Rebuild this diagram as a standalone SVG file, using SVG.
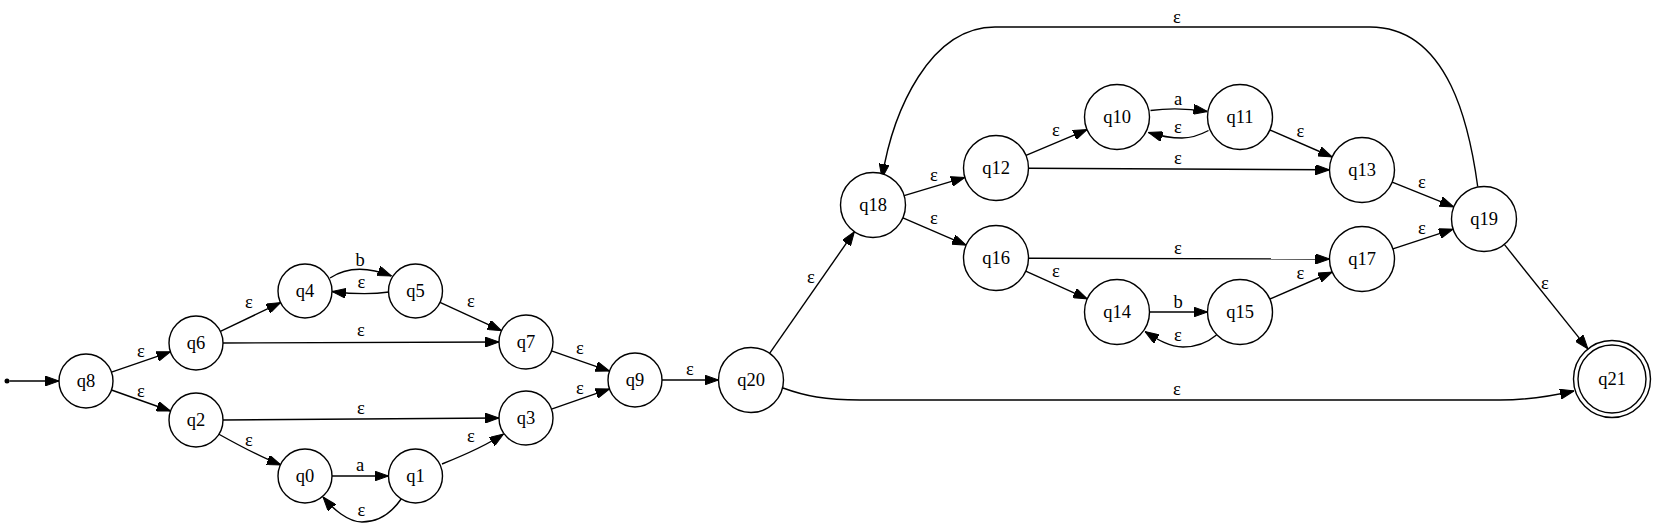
<svg xmlns="http://www.w3.org/2000/svg" width="1655" height="529" viewBox="0 0 1655 529">
<defs>
<marker id="arr" viewBox="0 0 14 10" refX="14" refY="5" markerWidth="14" markerHeight="10" markerUnits="userSpaceOnUse" orient="auto">
<path d="M0,0 L14,5 L0,10 z" fill="#000" stroke="#000" stroke-width="1"/>
</marker>
</defs>
<style>
.node circle{fill:#fff;stroke:#000;stroke-width:1.4}
.node text,.lbl text{font-family:"Liberation Serif","Times New Roman",serif;font-size:18.5px;fill:#000;text-anchor:middle}
.edges path{fill:none;stroke:#000;stroke-width:1.4;marker-end:url(#arr)}
</style>
<rect width="1655" height="529" fill="#fff"/>
<g id="connectors">
<g class="edges">
<path d="M9.5,381 L59,381"/>
<path d="M111.5,372.2 L170.5,351.8"/>
<path d="M111.5,390 L170.5,411"/>
<path d="M220.4,331.4 L280.6,302.6"/>
<path d="M223,343 L499,342"/>
<path d="M218.5,434 C240,446 258,456 281,465"/>
<path d="M223,420 L499,418"/>
<path d="M330,278 C345,268 366,266 391.5,276"/>
<path d="M389,292 C372,294.5 352,294 332,291.5"/>
<path d="M440,302.3 L501.5,330.7"/>
<path d="M332,476 L388.5,476"/>
<path d="M401.5,498.5 C393,511 380,522 362,522 C348,522 333,509 323,497"/>
<path d="M442,464 C462,456 484,447 503.5,434"/>
<path d="M551.5,350.9 L609.5,371.1"/>
<path d="M551.5,409.1 L609.5,388.9"/>
<path d="M662,380 L718.5,380"/>
<path d="M769.6,353.3 L854.4,231.7"/>
<path d="M783,388 C805,396 825,400 860,400 L1500,400 C1530,400 1552,396 1574,391"/>
<path d="M904.1,195.6 L964.9,177.4"/>
<path d="M902.9,217.9 L966.1,245.1"/>
<path d="M1026,155.4 L1087.1,129.6"/>
<path d="M1028.5,168.3 L1329.5,169.8"/>
<path d="M1150.5,110.5 C1165,108.5 1185,108 1207.5,111.5"/>
<path d="M1208.5,130.5 C1200,135 1192,138 1182,138 C1170,138 1160,136 1148.5,132.5"/>
<path d="M1269.8,130 L1332.2,157"/>
<path d="M1025.7,271.2 L1087.3,298.8"/>
<path d="M1028.5,258.3 L1329.5,259"/>
<path d="M1149.5,312 L1207.5,312"/>
<path d="M1216.5,335 C1207,343 1196,347 1183,347 C1170,347 1158,340 1145,331.5"/>
<path d="M1269.8,299 L1332.2,272"/>
<path d="M1392.2,182.1 L1453.8,206.9"/>
<path d="M1392.9,248.9 L1453.1,229.1"/>
<path d="M1504.3,244.4 L1587.9,348.9"/>
<path d="M1477.7,186.5 C1470,130 1450,27 1370,27 L995,27 C930,27 893,110 882,178"/>
</g>
<g class="lbl">
<text x="141" y="357">ε</text>
<text x="141" y="397">ε</text>
<text x="249" y="308">ε</text>
<text x="361" y="336">ε</text>
<text x="249" y="446">ε</text>
<text x="361" y="414">ε</text>
<text x="360" y="266">b</text>
<text x="361.5" y="287.5">ε</text>
<text x="471" y="307">ε</text>
<text x="360" y="471">a</text>
<text x="361.5" y="516">ε</text>
<text x="471" y="442">ε</text>
<text x="580" y="354">ε</text>
<text x="580" y="393.5">ε</text>
<text x="690" y="375">ε</text>
<text x="811" y="283">ε</text>
<text x="1177" y="395">ε</text>
<text x="934" y="181">ε</text>
<text x="934" y="224">ε</text>
<text x="1056" y="136">ε</text>
<text x="1178" y="164">ε</text>
<text x="1178" y="105">a</text>
<text x="1178" y="132.5">ε</text>
<text x="1300.5" y="137">ε</text>
<text x="1056" y="277">ε</text>
<text x="1178" y="253.5">ε</text>
<text x="1178" y="308">b</text>
<text x="1178" y="341">ε</text>
<text x="1300.5" y="279">ε</text>
<text x="1422" y="187.5">ε</text>
<text x="1422" y="233.5">ε</text>
<text x="1545" y="289">ε</text>
<text x="1177" y="23">ε</text>
</g>
</g>
<g id="start"><circle cx="7" cy="381" r="2.5" fill="#000"/></g>
<g id="q8" class="node"><circle cx="86" cy="381" r="27"/><text x="86" y="387">q8</text></g>
<g id="q6" class="node"><circle cx="196" cy="343" r="27"/><text x="196" y="349">q6</text></g>
<g id="q2" class="node"><circle cx="196" cy="420" r="27"/><text x="196" y="426">q2</text></g>
<g id="q4" class="node"><circle cx="305" cy="291" r="27"/><text x="305" y="297">q4</text></g>
<g id="q5" class="node"><circle cx="415.5" cy="291" r="27"/><text x="415.5" y="297">q5</text></g>
<g id="q0" class="node"><circle cx="305" cy="476" r="27"/><text x="305" y="482">q0</text></g>
<g id="q1" class="node"><circle cx="415.5" cy="476" r="27"/><text x="415.5" y="482">q1</text></g>
<g id="q7" class="node"><circle cx="526" cy="342" r="27"/><text x="526" y="348">q7</text></g>
<g id="q3" class="node"><circle cx="526" cy="418" r="27"/><text x="526" y="424">q3</text></g>
<g id="q9" class="node"><circle cx="635" cy="380" r="27"/><text x="635" y="386">q9</text></g>
<g id="q20" class="node"><circle cx="751" cy="380" r="32.5"/><text x="751" y="386">q20</text></g>
<g id="q18" class="node"><circle cx="873" cy="205" r="32.5"/><text x="873" y="211">q18</text></g>
<g id="q12" class="node"><circle cx="996" cy="168" r="32.5"/><text x="996" y="174">q12</text></g>
<g id="q10" class="node"><circle cx="1117" cy="117" r="32.5"/><text x="1117" y="123">q10</text></g>
<g id="q11" class="node"><circle cx="1240" cy="117" r="32.5"/><text x="1240" y="123">q11</text></g>
<g id="q13" class="node"><circle cx="1362" cy="170" r="32.5"/><text x="1362" y="176">q13</text></g>
<g id="q16" class="node"><circle cx="996" cy="258" r="32.5"/><text x="996" y="264">q16</text></g>
<g id="q14" class="node"><circle cx="1117" cy="312" r="32.5"/><text x="1117" y="318">q14</text></g>
<g id="q15" class="node"><circle cx="1240" cy="312" r="32.5"/><text x="1240" y="318">q15</text></g>
<g id="q17" class="node"><circle cx="1362" cy="259" r="32.5"/><text x="1362" y="265">q17</text></g>
<g id="q19" class="node"><circle cx="1484" cy="219" r="32.5"/><text x="1484" y="225">q19</text></g>
<g id="q21" class="node"><circle cx="1612" cy="379" r="38.5"/><circle cx="1612" cy="379" r="34"/><text x="1612" y="385">q21</text></g>
</svg>
